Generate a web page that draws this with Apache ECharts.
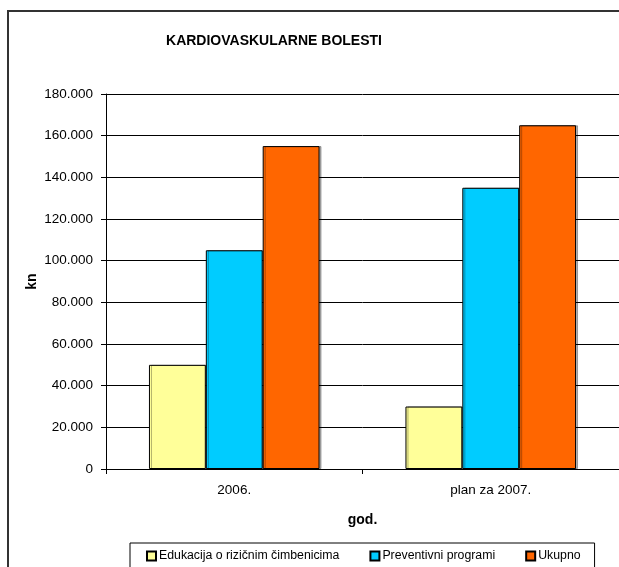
<!DOCTYPE html>
<html>
<head>
<meta charset="utf-8">
<script src="https://cdn.jsdelivr.net/npm/echarts@6/dist/echarts.min.js"></script>
<style>
  html, body { margin: 0; padding: 0; background: #fff; }
  #chart { width: 619px; height: 567px; }
</style>
</head>
<body>
<div id="chart"></div>
<script>
// podaci
var categories = ['2006.', 'plan za 2007.'];
var seriesNames = ['Edukacija o rizičnim čimbenicima', 'Preventivni programi', 'Ukupno'];
var edukacija = [50000, 30000];
var preventivni = [105000, 135000];
var ukupno = [155000, 165000];
var colors = ['#FFFF99', '#00CCFF', '#FF6600'];

// 180000 -> 180.000
function fmt(v) {
    return String(v).replace(/\B(?=(\d{3})+(?!\d))/g, '.');
}

var font = 'Liberation Sans, Arial, sans-serif';
var myChart = echarts.init(document.getElementById('chart'));

function bar(name, data, color) {
    return {
        name: name,
        type: 'bar',
        data: data,
        barGap: '0%',
        barCategoryGap: '33.5%',
        itemStyle: {
            color: color,
            borderColor: '#000',
            borderWidth: 1,
            shadowColor: 'rgba(0,0,0,0.3)',
            shadowOffsetX: 2,
            shadowOffsetY: 0
        }
    };
}

myChart.setOption({
    animation: false,
    title: {
        text: 'KARDIOVASKULARNE BOLESTI',
        left: 269,
        textAlign: 'center',
        top: 29,
        textStyle: { fontFamily: font, fontSize: 14, fontWeight: 'bold', color: '#000' }
    },
    graphic: [{
        type: 'rect',
        shape: { x: 8, y: 11, width: 700, height: 700 },
        style: { fill: 'none', stroke: '#333', lineWidth: 2 },
        silent: true
    }],
    legend: {
        left: 130,
        top: 543,
        icon: 'rect',
        itemWidth: 9,
        itemHeight: 9,
        itemGap: 30,
        padding: [7, 14, 30, 16],
        borderColor: '#000',
        borderWidth: 1,
        textStyle: { fontFamily: font, fontSize: 12.3, color: '#000', padding: [0, 0, 0, -2] },
        data: seriesNames
    },
    grid: { left: 106, right: -1, top: 94, bottom: 98 },
    xAxis: {
        type: 'category',
        data: categories,
        name: 'god.',
        nameLocation: 'middle',
        nameGap: 44,
        nameMoveOverlap: false,
        nameTextStyle: { fontFamily: font, fontSize: 14, fontWeight: 'bold', color: '#000' },
        axisLine: { lineStyle: { color: '#000', width: 1 } },
        axisTick: { show: true, length: 5, inside: false, lineStyle: { color: '#000' } },
        axisLabel: { fontFamily: font, fontSize: 13.5, color: '#000', margin: 14 }
    },
    yAxis: {
        type: 'value',
        min: 0,
        max: 180000,
        interval: 20000,
        name: 'kn',
        nameLocation: 'middle',
        nameGap: 67,
        nameMoveOverlap: false,
        nameRotate: 90,
        nameTextStyle: { fontFamily: font, fontSize: 14, fontWeight: 'bold', color: '#000' },
        axisLine: { show: true, lineStyle: { color: '#000', width: 1 } },
        axisTick: { show: true, length: 5, lineStyle: { color: '#000' } },
        axisLabel: { fontFamily: font, fontSize: 13.5, color: '#000', margin: 13, formatter: fmt },
        splitLine: { show: true, lineStyle: { color: '#000', width: 1 } }
    },
    series: [
        bar(seriesNames[0], edukacija, colors[0]),
        bar(seriesNames[1], preventivni, colors[1]),
        bar(seriesNames[2], ukupno, colors[2])
    ]
});
</script>
</body>
</html>
